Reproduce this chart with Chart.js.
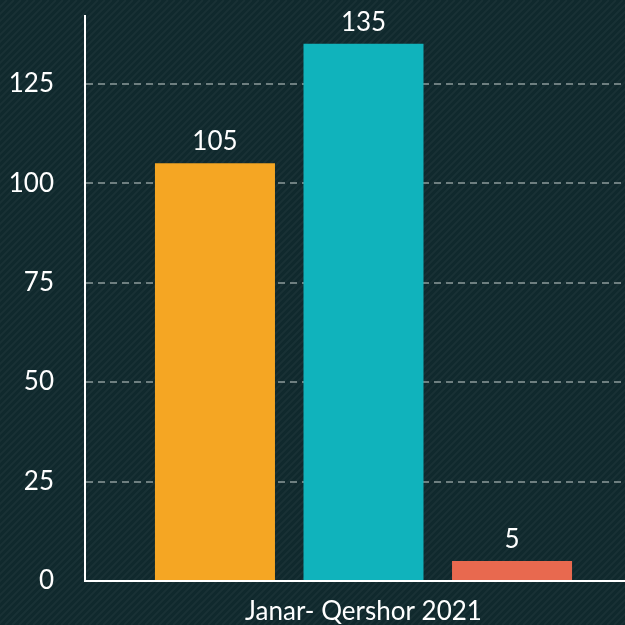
<!DOCTYPE html>
<html>
<head>
<meta charset="utf-8">
<script src="https://cdn.jsdelivr.net/npm/chart.js@4"></script>
<style>
  html, body { margin:0; padding:0; overflow:hidden; background:#11292d; }
  #wrap { width:642px; height:625px; }
</style>
</head>
<body>
<div id="wrap"><canvas id="chart"></canvas></div>
<script>
// ===== Data =====
const categories = ['Janar- Qershor 2021'];
const seriesNames = ['A', 'B', 'C'];
const seriesValues = [[105], [135], [5]];
const seriesColors = ['#f5a623', '#10b3bc', '#e8694f'];
const yTicks = [0, 25, 50, 75, 100, 125];

const FONT = 'Lato, "Open Sans", sans-serif';

// ===== Plugins =====
const stripedBg = {
  id: 'stripedBg',
  beforeDraw(chart){
    const {ctx, width, height} = chart;
    ctx.save();
    ctx.fillStyle = '#10292d';
    ctx.fillRect(0, 0, width, height);
    ctx.strokeStyle = 'rgba(255,255,255,0.04)';
    ctx.lineWidth = 2;
    for (let x = -height; x < width + height; x += 7){
      ctx.beginPath();
      ctx.moveTo(x, height);
      ctx.lineTo(x + height, 0);
      ctx.stroke();
    }
    ctx.restore();
  }
};

const valueLabels = {
  id: 'valueLabels',
  afterDatasetsDraw(chart){
    const {ctx} = chart;
    ctx.save();
    ctx.fillStyle = '#ffffff';
    ctx.font = '26px ' + FONT;
    ctx.textAlign = 'center';
    ctx.textBaseline = 'alphabetic';
    chart.data.datasets.forEach((ds, i)=>{
      chart.getDatasetMeta(i).data.forEach((bar, j)=>{
        ctx.fillText(String(ds.data[j]), bar.x, bar.y - 13);
      });
    });
    ctx.restore();
  }
};

// ===== Chart =====
new Chart(document.getElementById('chart'), {
  type: 'bar',
  data: {
    labels: categories,
    datasets: seriesNames.map((n, i)=>({
      label: n,
      data: seriesValues[i],
      backgroundColor: seriesColors[i],
      borderWidth: 0,
      categoryPercentage: 0.8,
      barPercentage: 0.808
    }))
  },
  options: {
    responsive: true,
    maintainAspectRatio: false,
    animation: false,
    layout: { padding: { top: 16, left: 0, right: 0, bottom: 0 } },
    plugins: { legend: { display: false }, tooltip: { enabled: false } },
    scales: {
      x: {
        grid: { display: false, drawTicks: false },
        border: { display: true, color: '#ffffff', width: 2 },
        ticks: { color: '#ffffff', font: { family: FONT, size: 26 }, padding: 15 },
        afterFit(s){ s.height = 44; s.paddingLeft = 0; s.paddingRight = 0; }
      },
      y: {
        min: 0,
        max: 142,
        afterBuildTicks(axis){ axis.ticks = yTicks.map(v=>({value: v})); },
        grid: {
          drawTicks: false,
          color: ctx=> ctx.tick && ctx.tick.value === 0 ? 'rgba(0,0,0,0)' : 'rgba(150,162,162,0.7)',
          lineWidth: 2
        },
        border: { display: true, color: '#ffffff', width: 2, dash: [7, 5] },
        ticks: { color: '#ffffff', font: { family: FONT, size: 26 }, padding: 31 },
        afterFit(s){ s.width = 85; s.paddingTop = 0; s.paddingBottom = 0; }
      }
    }
  },
  plugins: [stripedBg, valueLabels]
});
</script>
</body>
</html>
